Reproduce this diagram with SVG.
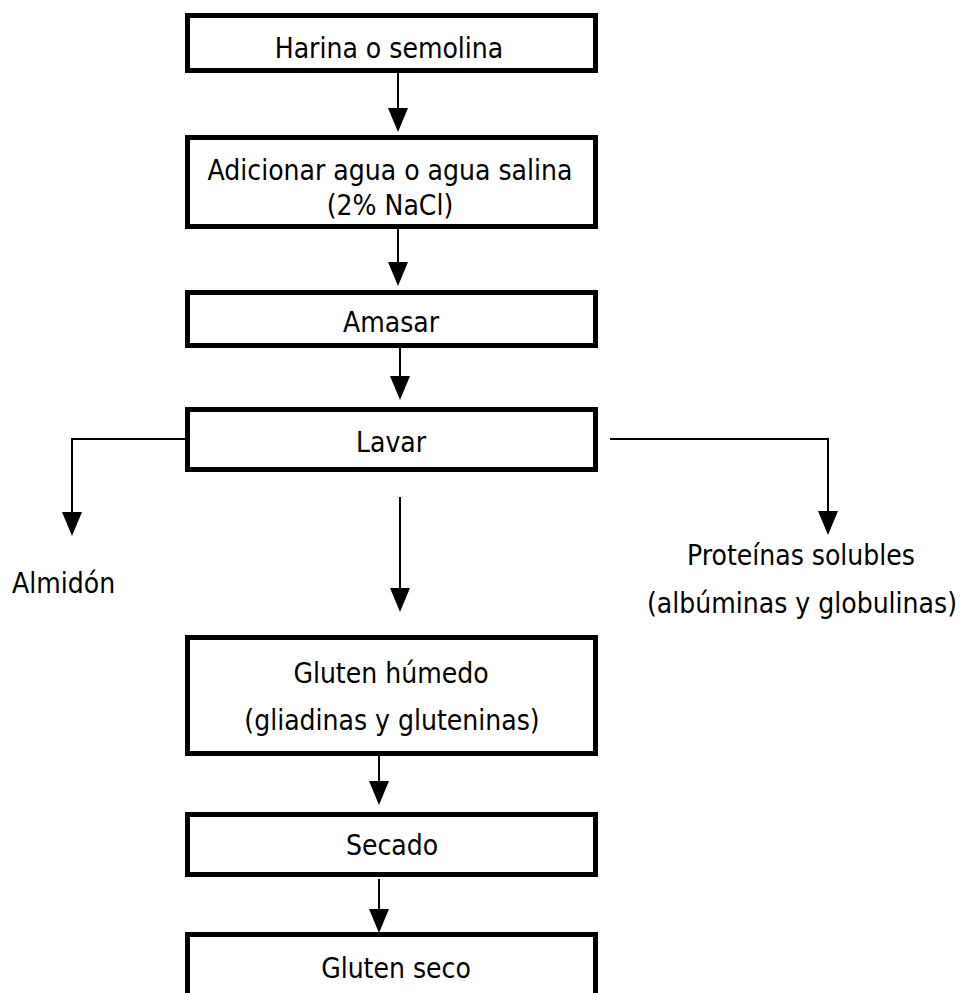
<svg xmlns="http://www.w3.org/2000/svg" width="964" height="993" viewBox="0 0 964 993">
<style>
.box{fill:#fff;stroke:#000;stroke-width:5}
.t{font-family:"DejaVu Sans Condensed","DejaVu Sans",Verdana,sans-serif;font-stretch:condensed;font-size:28px;fill:#000;text-anchor:middle}
.c{fill:none;stroke:#000;stroke-width:2}
</style>
<defs>
<marker id="ah" markerUnits="userSpaceOnUse" markerWidth="24" markerHeight="22" refX="20" refY="10" orient="auto" viewBox="0 0 24 20">
<path d="M0,0 L24,10 L0,20 z" fill="#000"/>
</marker>
</defs>
<rect width="964" height="993" fill="#fff"/>
<g id="connectors">
<line class="c" x1="398" y1="73" x2="398" y2="128" marker-end="url(#ah)"/>
<line class="c" x1="398" y1="229" x2="398" y2="282" marker-end="url(#ah)"/>
<line class="c" x1="400" y1="348" x2="400" y2="396" marker-end="url(#ah)"/>
<polyline class="c" points="186,439 72,439 72,532" marker-end="url(#ah)"/>
<polyline class="c" points="610,439 828,439 828,531" marker-end="url(#ah)"/>
<line class="c" x1="400" y1="497" x2="400" y2="608" marker-end="url(#ah)"/>
<line class="c" x1="379" y1="756" x2="379" y2="801" marker-end="url(#ah)"/>
<line class="c" x1="379" y1="879" x2="379" y2="929" marker-end="url(#ah)"/>
</g>
<g id="n1"><rect class="box" x="187.5" y="15.5" width="408" height="55"/><text class="t" x="389" y="58">Harina o semolina</text></g>
<g id="n2"><rect class="box" x="187.5" y="137.5" width="408" height="89"/><text class="t" x="390" y="180">Adicionar agua o agua salina</text><text class="t" x="390" y="215">(2% NaCl)</text></g>
<g id="n3"><rect class="box" x="187.5" y="292.5" width="408" height="53"/><text class="t" x="391" y="332">Amasar</text></g>
<g id="n4"><rect class="box" x="187.5" y="409.5" width="408" height="60"/><text class="t" x="391" y="452">Lavar</text></g>
<g id="n5"><text class="t" x="12" y="593" style="text-anchor:start">Almidón</text></g>
<g id="n6"><text class="t" x="801" y="565">Proteínas solubles</text><text class="t" x="802" y="613">(albúminas y globulinas)</text></g>
<g id="n7"><rect class="box" x="187.5" y="637.5" width="408" height="116"/><text class="t" x="391" y="683">Gluten húmedo</text><text class="t" x="392" y="730">(gliadinas y gluteninas)</text></g>
<g id="n8"><rect class="box" x="187.5" y="814.5" width="408" height="60"/><text class="t" x="392" y="855">Secado</text></g>
<g id="n9"><rect class="box" x="187.5" y="934.5" width="408" height="80"/><text class="t" x="396" y="978">Gluten seco</text></g>
</svg>
